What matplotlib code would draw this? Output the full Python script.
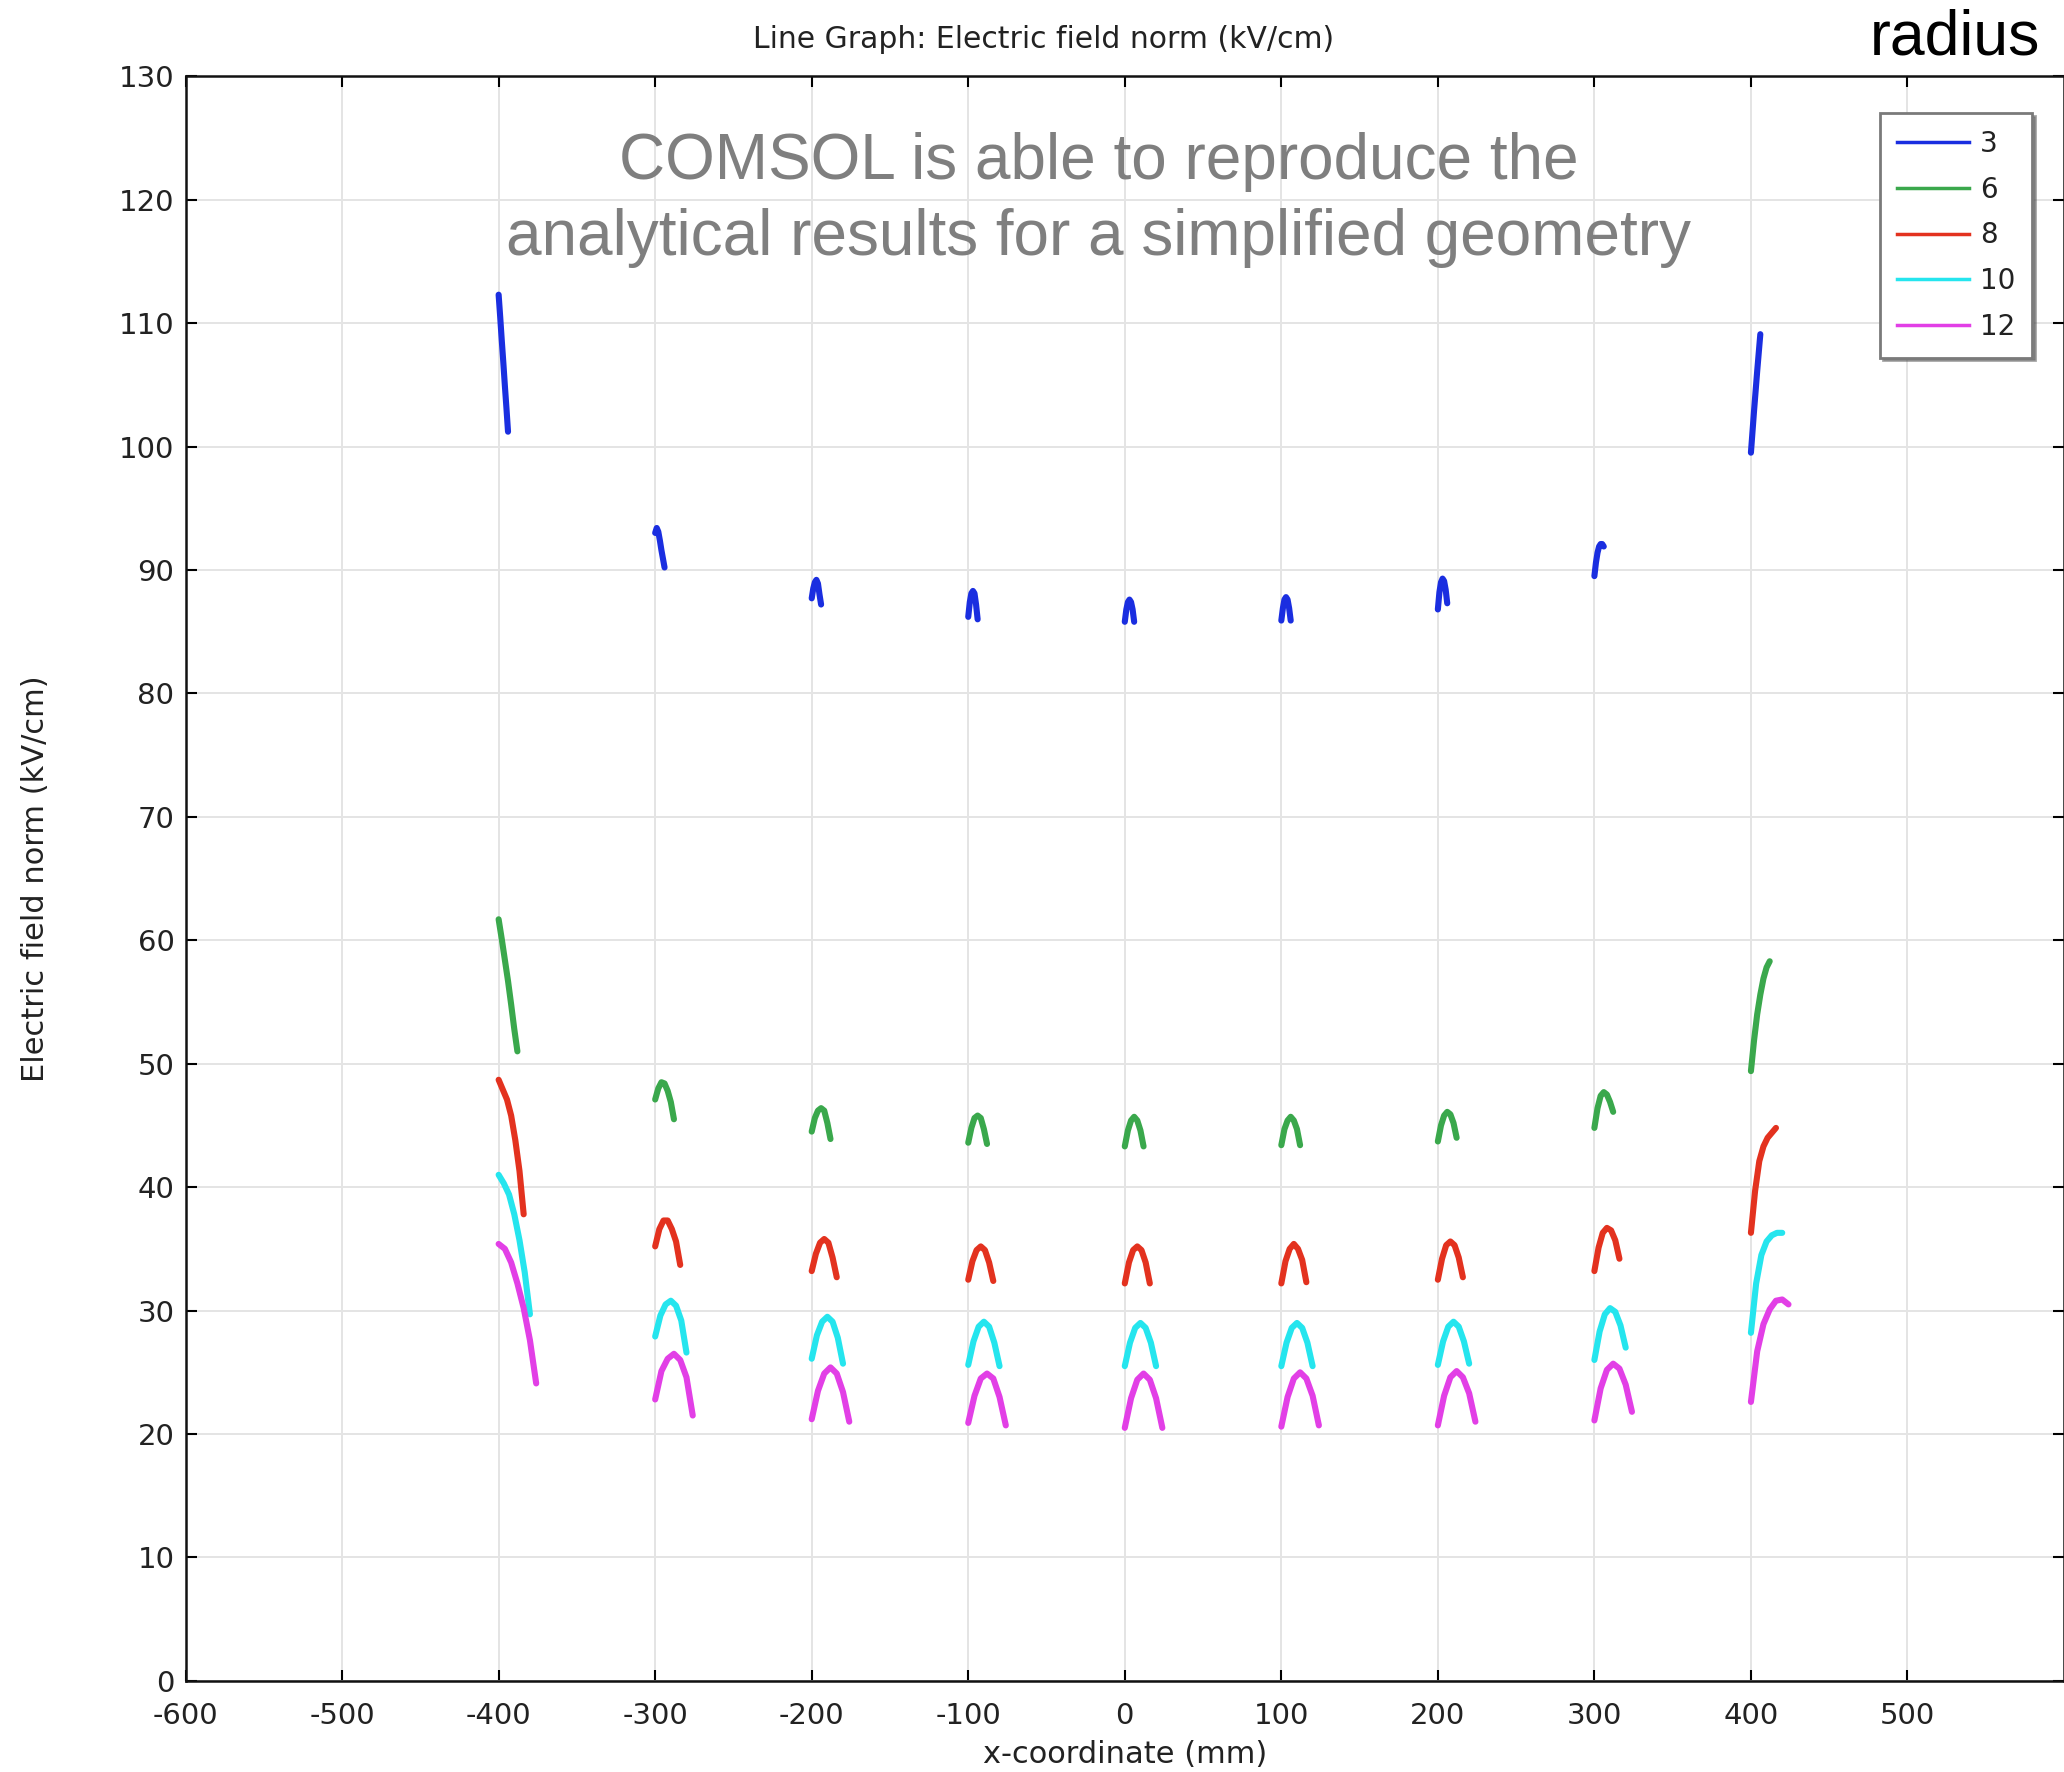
import numpy as np
import matplotlib.pyplot as plt
from matplotlib.lines import Line2D

plt.rcParams['font.family'] = 'DejaVu Sans'
plt.rcParams['axes.unicode_minus'] = False

radii = [3, 6, 8, 10, 12]
labels = ['3', '6', '8', '10', '12']
colors = ['#1a2ee0', '#3aa84c', '#e3321f', '#25e5ee', '#e23fe6']
centers = [-400, -300, -200, -100, 0, 100, 200, 300, 400]

# E-field (kV/cm) across each wire, 7 samples from x=c to x=c+2r
e_r3 = [
    [112.3, 110.5, 108.6, 106.8, 104.9, 103.1, 101.2],
    [93.0, 93.4, 93.1, 92.4, 91.6, 90.9, 90.2],
    [87.7, 88.5, 89.0, 89.2, 88.9, 88.0, 87.2],
    [86.2, 87.4, 88.1, 88.3, 88.1, 87.2, 86.0],
    [85.8, 86.8, 87.4, 87.6, 87.4, 86.8, 85.8],
    [85.9, 86.9, 87.6, 87.8, 87.6, 86.9, 85.9],
    [86.8, 88.2, 89.0, 89.3, 89.1, 88.4, 87.3],
    [89.5, 90.6, 91.4, 91.9, 92.1, 92.1, 91.9],
    [99.5, 101.2, 102.9, 104.5, 106.1, 107.6, 109.1],
]
e_r6 = [
    [61.7, 60.1, 58.4, 56.7, 54.8, 52.8, 51.0],
    [47.1, 48.0, 48.5, 48.4, 47.8, 46.9, 45.5],
    [44.5, 45.6, 46.2, 46.4, 46.2, 45.2, 43.9],
    [43.6, 44.8, 45.6, 45.8, 45.6, 44.7, 43.5],
    [43.3, 44.6, 45.4, 45.7, 45.4, 44.6, 43.3],
    [43.4, 44.7, 45.4, 45.7, 45.4, 44.7, 43.4],
    [43.7, 45.0, 45.8, 46.1, 45.9, 45.2, 44.0],
    [44.8, 46.4, 47.4, 47.7, 47.5, 46.9, 46.1],
    [49.4, 51.9, 54.0, 55.6, 56.9, 57.8, 58.3],
]
e_r8 = [
    [48.7, 47.9, 47.1, 45.8, 43.8, 41.3, 37.8],
    [35.2, 36.6, 37.3, 37.3, 36.6, 35.6, 33.7],
    [33.2, 34.6, 35.5, 35.8, 35.5, 34.3, 32.7],
    [32.5, 34.0, 34.9, 35.2, 34.9, 33.9, 32.4],
    [32.2, 33.9, 34.9, 35.2, 34.9, 33.9, 32.2],
    [32.2, 34.0, 35.0, 35.4, 35.0, 34.1, 32.3],
    [32.5, 34.2, 35.3, 35.6, 35.3, 34.3, 32.7],
    [33.2, 35.1, 36.3, 36.7, 36.5, 35.7, 34.2],
    [36.3, 39.7, 42.1, 43.3, 44.0, 44.4, 44.8],
]
e_r10 = [
    [41.0, 40.3, 39.4, 37.8, 35.7, 33.1, 29.7],
    [27.9, 29.6, 30.5, 30.8, 30.4, 29.2, 26.6],
    [26.1, 28.0, 29.1, 29.5, 29.1, 27.8, 25.7],
    [25.6, 27.5, 28.7, 29.1, 28.7, 27.4, 25.5],
    [25.5, 27.4, 28.6, 29.0, 28.6, 27.4, 25.5],
    [25.5, 27.4, 28.6, 29.0, 28.6, 27.4, 25.5],
    [25.6, 27.5, 28.7, 29.1, 28.7, 27.5, 25.7],
    [26.0, 28.3, 29.7, 30.2, 29.9, 28.8, 27.0],
    [28.2, 32.2, 34.5, 35.6, 36.1, 36.3, 36.3],
]
e_r12 = [
    [35.4, 35.0, 33.9, 32.2, 30.2, 27.6, 24.1],
    [22.8, 25.1, 26.1, 26.5, 26.0, 24.6, 21.5],
    [21.2, 23.5, 24.9, 25.4, 24.9, 23.4, 21.0],
    [20.9, 23.1, 24.5, 24.9, 24.5, 23.0, 20.7],
    [20.5, 22.9, 24.4, 24.9, 24.4, 22.9, 20.5],
    [20.6, 23.0, 24.5, 25.0, 24.5, 23.1, 20.7],
    [20.7, 23.1, 24.6, 25.1, 24.6, 23.3, 21.0],
    [21.1, 23.7, 25.2, 25.7, 25.3, 24.0, 21.8],
    [22.6, 26.7, 28.9, 30.1, 30.8, 30.9, 30.5],
]
fields = [e_r3, e_r6, e_r8, e_r10, e_r12]

fig = plt.figure(figsize=(20.64, 17.72), dpi=100)
ax = fig.add_axes([0.0899, 0.0514, 0.9101, 0.9056])

for r, col, segs in zip(radii, colors, fields):
    offs = np.linspace(0, 2 * r, len(segs[0]))
    for c, ys in zip(centers, segs):
        ax.plot(c + offs, ys, color=col, lw=4.4, solid_capstyle='round', zorder=3)

ax.set_xlim(-600, 600)
ax.set_ylim(0, 130)
ax.set_xticks(np.arange(-600, 600, 100))
ax.set_yticks(np.arange(0, 131, 10))
ax.grid(True, color='#e4e4e4', lw=1.4)
ax.set_axisbelow(True)
ax.tick_params(direction='in', length=8, width=1.5, top=True, right=True,
               labelsize=21, labelcolor='#222222')
ax.tick_params(axis='x', pad=15)
ax.tick_params(axis='y', pad=8)
for s in ax.spines.values():
    s.set_linewidth(1.8)
    s.set_color('#111111')

ax.set_xlabel('x-coordinate (mm)', fontsize=22, color='#222222')
ax.set_ylabel('Electric field norm (kV/cm)', fontsize=22, color='#222222')
ax.xaxis.set_label_coords(0.5, -0.037)
ax.yaxis.set_label_coords(-0.072, 0.5)

fig.text(1044 / 2064, 1 - 40 / 1772, 'Line Graph: Electric field norm (kV/cm)',
         ha='center', va='center', fontsize=21.5, color='#222222')

fig.text(1099 / 2064, 1 - 200 / 1772,
         'COMSOL is able to reproduce the\nanalytical results for a simplified geometry',
         ha='center', va='center', fontsize=46, color='#7f7f7f',
         family='Liberation Sans', linespacing=1.33)
fig.text(1955 / 2064, 1 - 38 / 1772, 'radius', ha='center', va='center',
         fontsize=45, color='black', family='Liberation Sans')

handles = [Line2D([], [], color=c, lw=2.5) for c in colors]
leg = ax.legend(handles, labels, loc='upper right', bbox_to_anchor=(0.983, 0.977),
                fontsize=20, frameon=True, fancybox=False, shadow=True,
                handlelength=2.6, labelspacing=0.64, borderpad=0.6,
                handletextpad=0.4, borderaxespad=0)
leg.get_frame().set_edgecolor('#7a7a7a')
leg.get_frame().set_linewidth(2)
for t in leg.get_texts():
    t.set_color('#222222')

fig.savefig('out.png', dpi=100)
